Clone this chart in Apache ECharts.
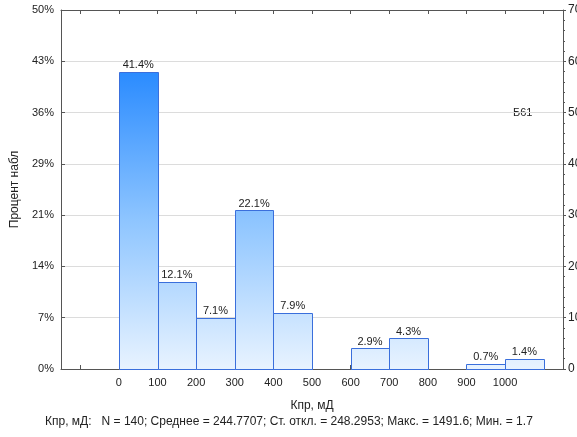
<!DOCTYPE html>
<html>
<head>
<meta charset="utf-8">
<script src="https://cdn.jsdelivr.net/npm/echarts@6/dist/echarts.min.js"></script>
<style>html,body{margin:0;padding:0;background:#fff}#c{width:577px;height:437px}</style>
</head>
<body>
<div id="c"></div>
<script>
// Bin edges (Кпр, мД) and counts (N = 140)
var binStart = [0, 100, 200, 300, 400, 500, 600, 700, 800, 900, 1000];
var binEnd   = [100, 200, 300, 400, 500, 600, 700, 800, 900, 1000, 1100];
var counts   = [58, 17, 10, 31, 11, 0, 4, 6, 0, 1, 2];
var totalN = 140;
var xTicks = [-100, 0, 100, 200, 300, 400, 500, 600, 700, 800, 900, 1000, 1100];
var xLabels = [0, 100, 200, 300, 400, 500, 600, 700, 800, 900, 1000];
var xName = 'Кпр, мД';
var yName = 'Процент набл';
var statText = 'Кпр, мД:   N = 140; Среднее = 244.7707; Ст. откл. = 248.2953; Макс. = 1491.6; Мин. = 1.7';
var tagText = 'Б61';

var FONT = 'Liberation Sans, Arial, sans-serif';
var data = binStart.map(function (s, i) { return [s, binEnd[i], counts[i]]; });
var maxCount = Math.max.apply(null, counts);

var chart = echarts.init(document.getElementById('c'), null, {renderer: 'canvas'});
chart.setOption({
  animation: false,
  backgroundColor: '#fff',
  grid: {left: 61, right: 14, top: 10, bottom: 68, containLabel: false, outerBoundsMode: 'none'},
  xAxis: [{
    type: 'value', min: -150, max: 1150, position: 'bottom',
    name: xName, nameLocation: 'middle', nameGap: 31,
    nameTextStyle: {fontFamily: FONT, fontSize: 12, color: '#222'},
    axisLine: {show: true, onZero: false, lineStyle: {color: '#555', width: 1}},
    axisTick: {show: true, inside: true, length: 4, lineStyle: {color: '#555'}, customValues: xTicks},
    axisLabel: {show: true, margin: 8, fontFamily: FONT, fontSize: 11, color: '#222', customValues: xLabels,
      formatter: function (v) { return String(v); }},
    splitLine: {show: false}
  }, {
    type: 'value', min: -150, max: 1150, position: 'top',
    axisLine: {show: true, onZero: false, lineStyle: {color: '#555', width: 1}},
    axisTick: {show: true, inside: true, length: 4, lineStyle: {color: '#555'}, customValues: xTicks},
    axisLabel: {show: false},
    splitLine: {show: false}
  }],
  yAxis: [{
    type: 'value', min: 0, max: 70, interval: 10, position: 'left',
    name: yName, nameLocation: 'middle', nameGap: 40, nameRotate: 90,
    nameTextStyle: {fontFamily: FONT, fontSize: 12, color: '#222'},
    axisLine: {show: true, onZero: false, lineStyle: {color: '#555', width: 1}},
    axisTick: {show: true, inside: true, length: 4, lineStyle: {color: '#555'}},
    axisLabel: {margin: 7, fontFamily: FONT, fontSize: 11, color: '#222',
      formatter: function (v) { return Math.round(v / totalN * 100) + '%'; }},
    splitLine: {show: true, lineStyle: {color: '#dcdcdc', width: 1}}
  }, {
    type: 'value', min: 0, max: 70, interval: 10, position: 'right',
    axisLine: {show: true, onZero: false, lineStyle: {color: '#555', width: 1}},
    axisTick: {show: true, inside: false, length: 3, lineStyle: {color: '#555'}},
    minorTick: {show: true, splitNumber: 5, length: 2, lineStyle: {color: '#555'}},
    axisLabel: {margin: 5, fontFamily: FONT, fontSize: 12, color: '#222'},
    splitLine: {show: false}
  }],
  graphic: [{
    type: 'text', left: 45, top: 416,
    style: {text: statText, font: '12px ' + FONT, fill: '#222'}
  }, {
    type: 'text', left: 513, top: 107,
    style: {text: tagText, font: '11px ' + FONT, fill: '#222'}
  }],
  series: [{
    type: 'custom',
    xAxisIndex: 0, yAxisIndex: 0,
    data: data,
    renderItem: function (params, api) {
      var s = api.value(0), e = api.value(1), c = api.value(2);
      var p0 = api.coord([s, c]);
      var p1 = api.coord([e, 0]);
      var top = api.coord([0, maxCount])[1];
      var bot = api.coord([0, 0])[1];
      var children = [];
      if (c > 0) {
        children.push({
          type: 'rect',
          shape: {x: Math.round(p0[0]) + 0.5, y: Math.round(p0[1]) + 0.5,
                  width: Math.round(p1[0]) - Math.round(p0[0]),
                  height: Math.round(p1[1]) - Math.round(p0[1])},
          style: {
            fill: new echarts.graphic.LinearGradient(0, top, 0, bot, [
              {offset: 0, color: '#2a8bff'},
              {offset: 0.5, color: '#8ec5ff'},
              {offset: 1, color: '#e8f3ff'}
            ], true),
            stroke: '#3a6fdc', lineWidth: 1
          }
        });
        children.push({
          type: 'text',
          x: (p0[0] + p1[0]) / 2, y: p0[1] - 1,
          style: {text: (c / totalN * 100).toFixed(1) + '%', font: '11px ' + FONT,
                  fill: '#222', align: 'center', verticalAlign: 'bottom'}
        });
      }
      return {type: 'group', children: children};
    }
  }]
});
</script>
</body>
</html>
